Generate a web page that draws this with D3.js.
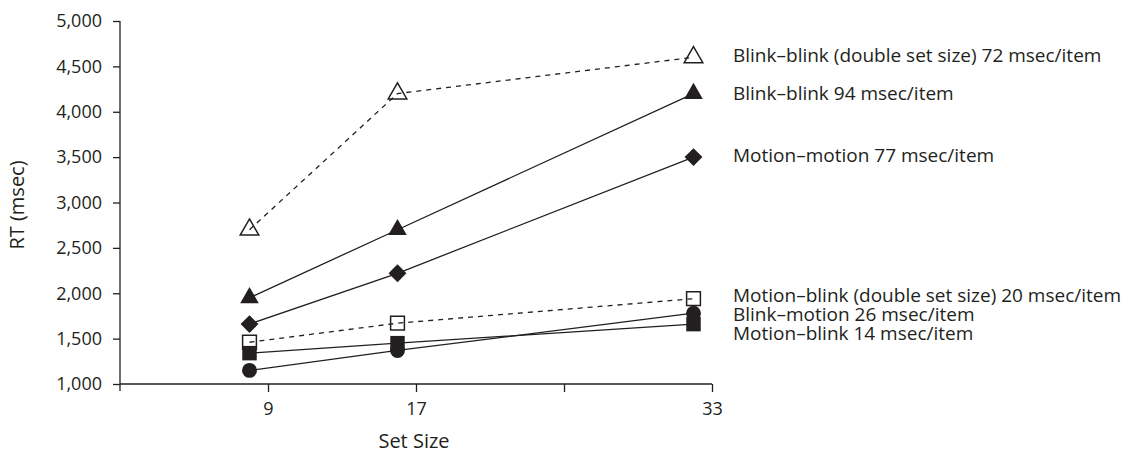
<!DOCTYPE html>
<html>
<head>
<meta charset="utf-8">
<script src="https://cdn.jsdelivr.net/npm/d3@7"></script>
<style>
  body { margin: 0; background: #fff; }
  svg text { font-family: "Open Sans", sans-serif; fill: #231f20; }
</style>
</head>
<body>
<svg id="chart" width="1139" height="456"></svg>
<script>
// Data
const setSizes = [8, 16, 32];
const seriesNames = [
  'Blink\u2013blink (double set size) 72 msec/item',
  'Blink\u2013blink 94 msec/item',
  'Motion\u2013motion 77 msec/item',
  'Motion\u2013blink (double set size) 20 msec/item',
  'Blink\u2013motion 26 msec/item',
  'Motion\u2013blink 14 msec/item'
];
const blinkBlinkDouble = [2700, 4200, 4600];
const blinkBlink = [1950, 2700, 4200];
const motionMotion = [1660, 2220, 3500];
const motionBlinkDouble = [1460, 1670, 1940];
const blinkMotion = [1150, 1370, 1780];
const motionBlink = [1340, 1450, 1660];
// where each label sits, in RT units
const labelRT = [4620, 4200, 3520, 1980, 1765, 1560];

const xTicks = [1, 9, 17, 25, 33];
const xTickLabels = ['', '9', '17', '', '33'];
const yTicks = [1000, 1500, 2000, 2500, 3000, 3500, 4000, 4500, 5000];

const ink = '#231f20';

const svg = d3.select('#chart');

const x = d3.scaleLinear().domain([1, 33]).range([120, 712]);
const y = d3.scaleLinear().domain([1000, 5000]).range([384, 21]);

// axes
const yAxis = svg.append('g')
  .attr('transform', 'translate(120,0)')
  .call(d3.axisLeft(y).tickValues(yTicks).tickSize(7).tickPadding(11)
    .tickFormat(d3.format(',')));
yAxis.select('.domain').remove();
yAxis.append('line')
  .attr('x1', 0).attr('x2', 0)
  .attr('y1', y(5000)).attr('y2', y(1000) + 7)
  .attr('stroke', ink).attr('stroke-width', 1.3);

const xAxis = svg.append('g')
  .attr('transform', 'translate(0,384)')
  .call(d3.axisBottom(x).tickValues(xTicks).tickSize(8).tickPadding(10)
    .tickFormat((d, i) => xTickLabels[i]));
xAxis.select('.domain').remove();
xAxis.append('line')
  .attr('x1', x(1)).attr('x2', x(33))
  .attr('stroke', ink).attr('stroke-width', 1.3);

svg.selectAll('.tick line').attr('stroke', ink).attr('stroke-width', 1.3);
svg.selectAll('.tick text').attr('font-size', 18).style('fill', ink);
// first x tick sits on the y axis: nothing to show there
xAxis.selectAll('.tick').filter(d => d === 1).select('line').remove();

// axis titles
svg.append('text')
  .attr('transform', 'translate(24,205) rotate(-90)')
  .attr('text-anchor', 'middle')
  .attr('font-size', 20)
  .text('RT (msec)');

svg.append('text')
  .attr('x', 414).attr('y', 448)
  .attr('text-anchor', 'middle')
  .attr('font-size', 20)
  .text('Set Size');

// series
const series = [
  { vals: blinkBlinkDouble, sym: d3.symbolTriangle, size: 150, filled: false, dashed: true },
  { vals: blinkBlink, sym: d3.symbolTriangle, size: 150, filled: true, dashed: false },
  { vals: motionMotion, sym: d3.symbolSquare, size: 160, filled: true, dashed: false, rot: 45 },
  { vals: motionBlinkDouble, sym: d3.symbolSquare, size: 190, filled: false, dashed: true },
  { vals: blinkMotion, sym: d3.symbolCircle, size: 175, filled: true, dashed: false },
  { vals: motionBlink, sym: d3.symbolSquare, size: 210, filled: true, dashed: false }
];

const line = d3.line()
  .x((d, i) => x(setSizes[i]))
  .y(d => y(d));

series.forEach(s => {
  svg.append('path')
    .attr('d', line(s.vals))
    .attr('fill', 'none')
    .attr('stroke', ink)
    .attr('stroke-width', 1.3)
    .attr('stroke-dasharray', s.dashed ? '5,5' : null);
});

series.forEach(s => {
  svg.append('g')
    .selectAll('path')
    .data(s.vals)
    .enter().append('path')
    .attr('d', d3.symbol().type(s.sym).size(s.size))
    .attr('transform', (d, i) => `translate(${x(setSizes[i])},${y(d)})` + (s.rot ? ` rotate(${s.rot})` : ''))
    .attr('fill', s.filled ? ink : 'none')
    .attr('stroke', ink)
    .attr('stroke-width', s.filled ? 0 : 1.5);
});

// labels on the right
svg.append('g')
  .selectAll('text')
  .data(seriesNames)
  .enter().append('text')
  .attr('x', 733)
  .attr('y', (d, i) => y(labelRT[i]))
  .attr('dy', '0.35em')
  .attr('font-size', 19)
  .text(d => d);
</script>
</body>
</html>
